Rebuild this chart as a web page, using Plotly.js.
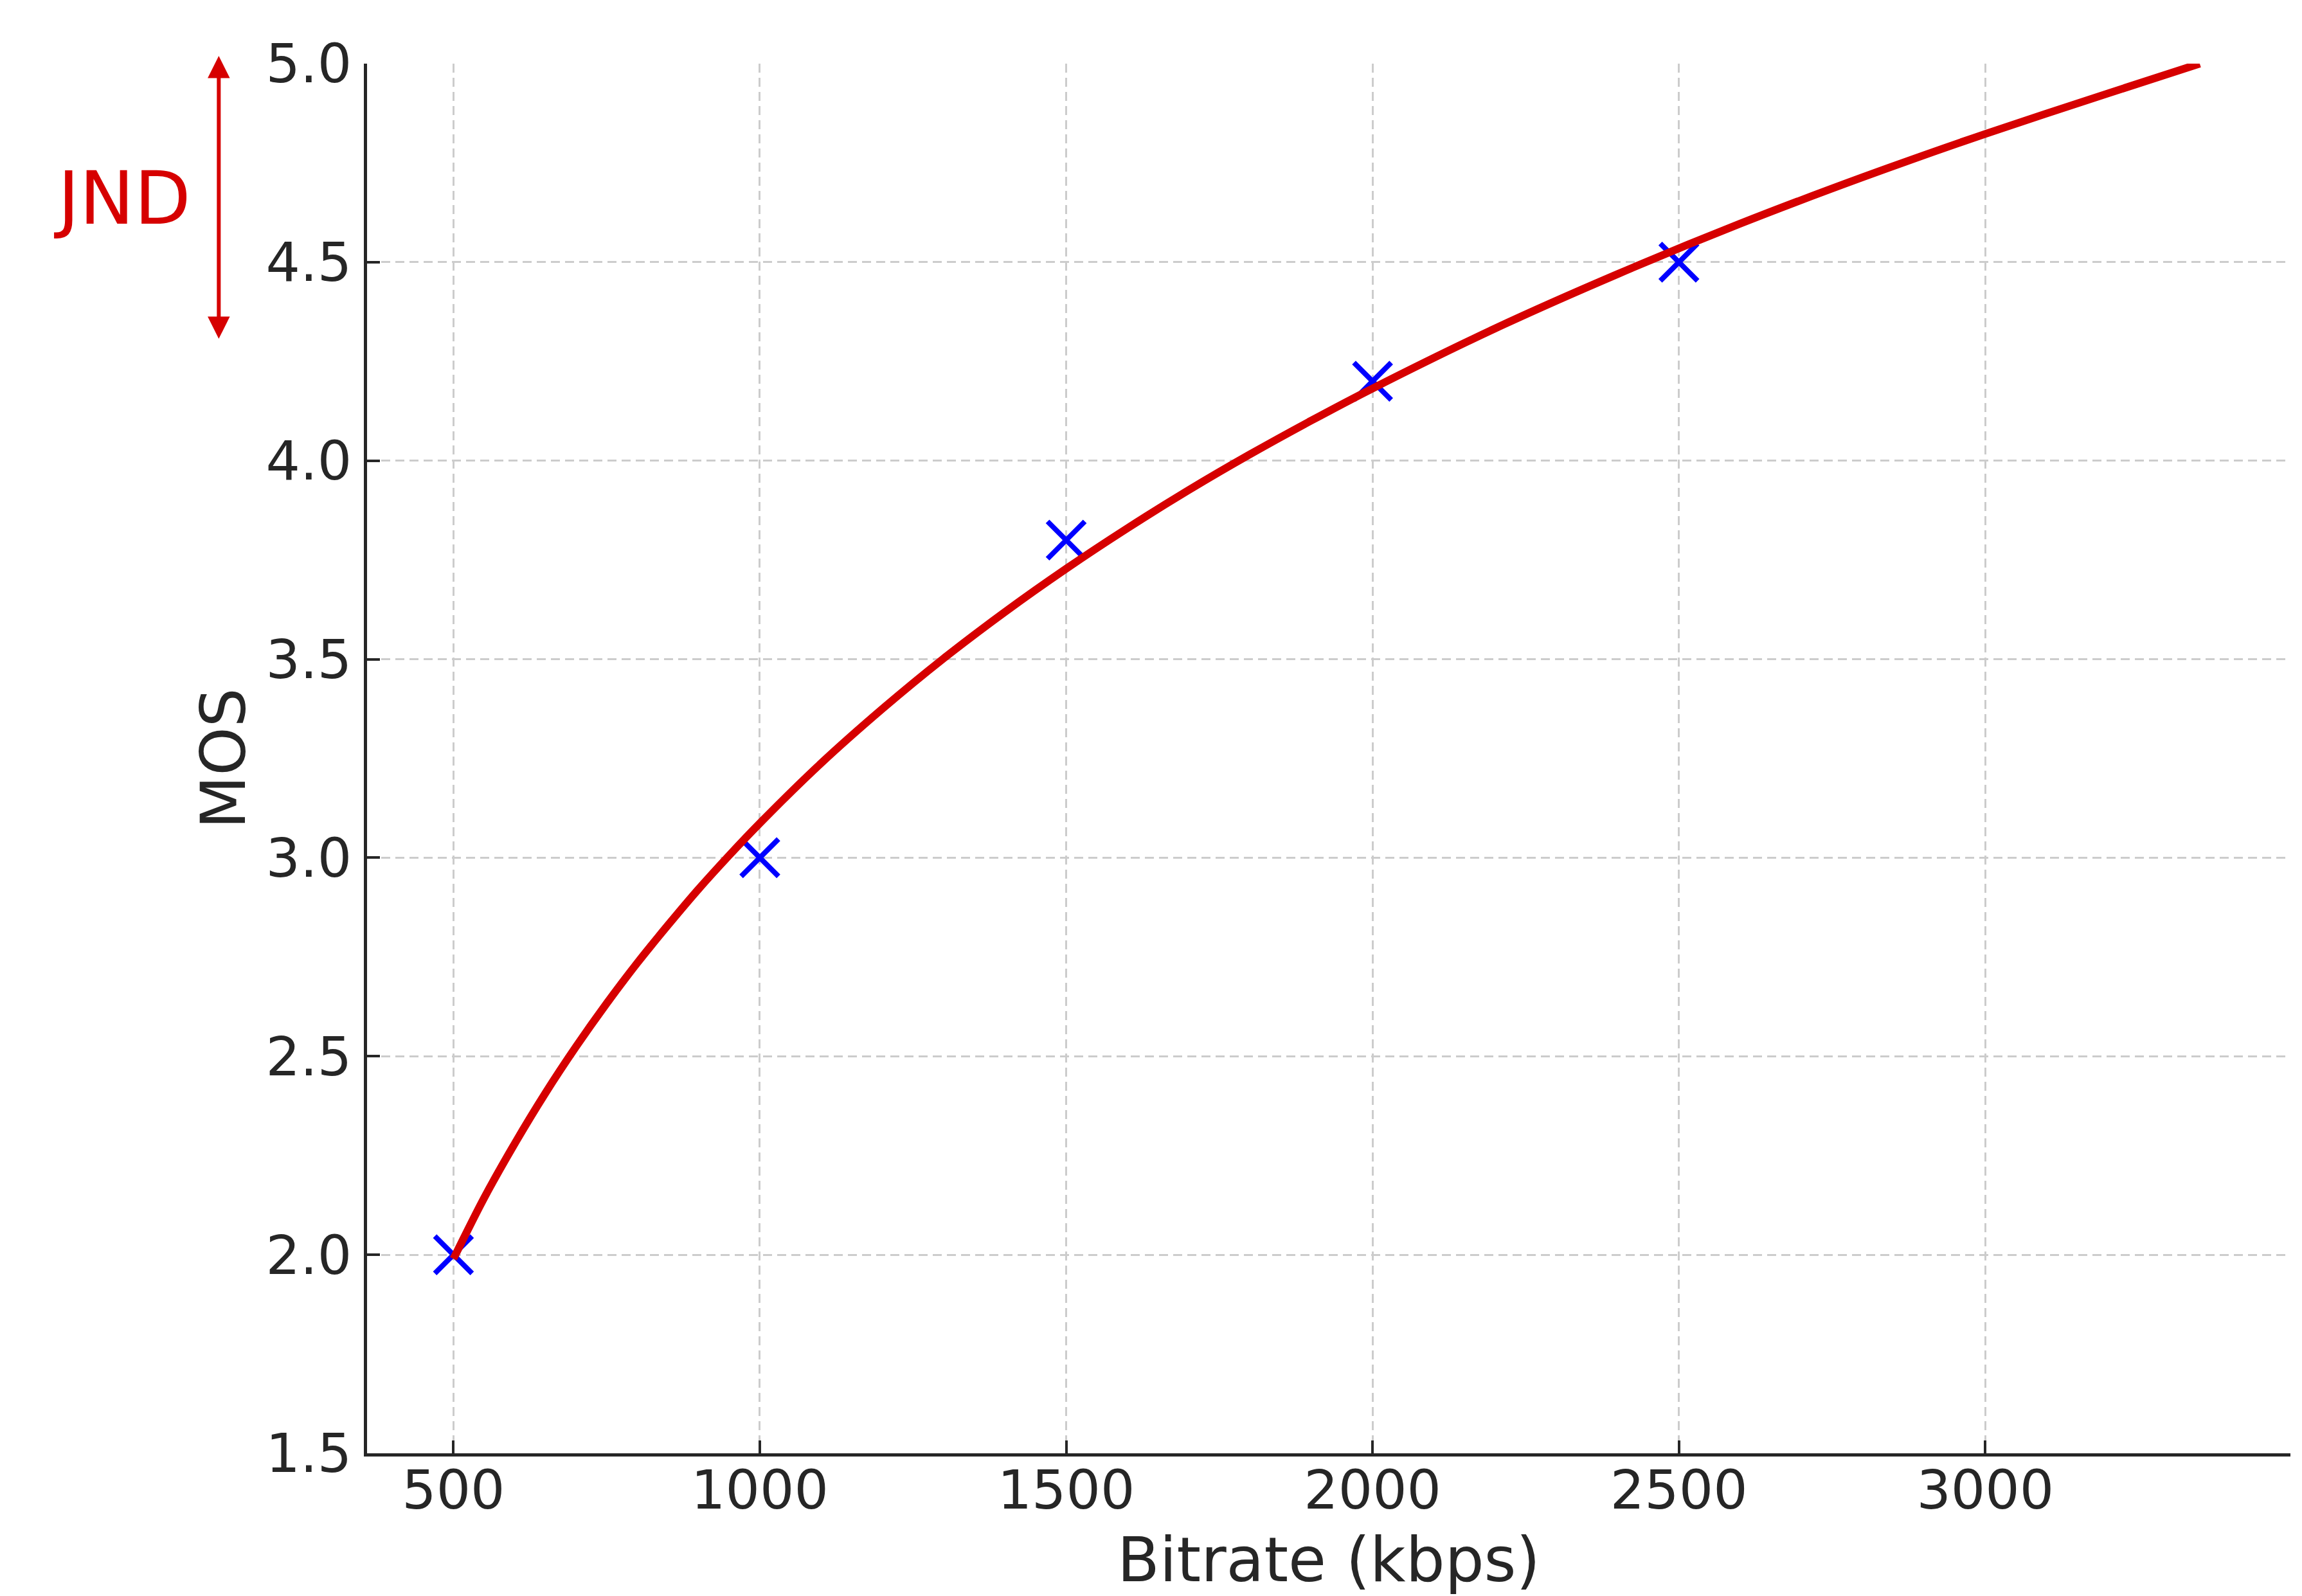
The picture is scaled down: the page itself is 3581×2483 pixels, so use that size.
<!DOCTYPE html>
<html>
<head>
<meta charset="utf-8">
<script src="https://cdn.plot.ly/plotly-3.0.1.min.js"></script>
<style>html,body{margin:0;padding:0;background:#fff;}</style>
</head>
<body>
<div id="chart" style="width:3581px;height:2483px;"></div>
<script>
// Measured MOS points
const bitrate = [500, 1000, 1500, 2000, 2500];
const mos = [2.0, 3.0, 3.8, 4.2, 4.5];

// Fitted curve
const curveX = [500, 550, 600, 650, 700, 750, 800, 850, 900, 950, 1000, 1100, 1200, 1300, 1400, 1500, 1600, 1700, 1800, 1900, 2000, 2200, 2400, 2600, 2800, 3000, 3200, 3350];
const curveY = [1.99, 2.143, 2.28, 2.407, 2.524, 2.633, 2.735, 2.83, 2.921, 3.006, 3.087, 3.238, 3.375, 3.502, 3.619, 3.728, 3.83, 3.926, 4.016, 4.101, 4.182, 4.333, 4.47, 4.597, 4.714, 4.823, 4.925, 5.0];

const xTicks = [500, 1000, 1500, 2000, 2500, 3000];
const yTicks = [1.5, 2.0, 2.5, 3.0, 3.5, 4.0, 4.5, 5.0];

const xRange = [359, 3498];
const yRange = [1.5, 5.0];

// JND annotation span (MOS units) and horizontal place (bitrate units, left of the axis)
const jndLow = 4.307;
const jndHigh = 5.022;
const jndX = 117;
const jndTextX = -40;
const jndTextY = 4.661;

const RED = '#d60000';
const INK = '#262626';
const FONT = 'DejaVu Sans';

const PLOT_H = 2483 - 99 - 222;
const toPaperX = v => (v - xRange[0]) / (xRange[1] - xRange[0]);
const toPaperY = v => (v - yRange[0]) / (yRange[1] - yRange[0]);

const traces = [
  {
    x: bitrate, y: mos, type: 'scatter', mode: 'markers',
    marker: {symbol: 'x-thin', size: 58, color: '#0000ff', line: {color: '#0000ff', width: 8}},
    showlegend: false, hoverinfo: 'skip'
  },
  {
    x: curveX, y: curveY, type: 'scatter', mode: 'lines',
    line: {color: RED, width: 12, shape: 'spline', smoothing: 0.8},
    showlegend: false, hoverinfo: 'skip'
  }
];

const axisCommon = {
  showline: true, linecolor: INK, linewidth: 5, mirror: false,
  ticks: 'inside', ticklen: 20, tickwidth: 4, tickcolor: INK,
  showgrid: true, gridcolor: '#cccccc', gridwidth: 3, griddash: '14px,8px',
  zeroline: false,
  tickfont: {family: FONT, size: 84, color: INK}
};

const layout = {
  width: 3581, height: 2483, autosize: false,
  margin: {l: 571, r: 18, t: 99, b: 222},
  paper_bgcolor: '#ffffff', plot_bgcolor: '#ffffff',
  font: {family: FONT, color: INK},
  xaxis: Object.assign({}, axisCommon, {
    range: xRange, tickvals: xTicks, ticktext: xTicks.map(String),
    ticklabelstandoff: -20,
    title: {text: 'Bitrate (kbps)', font: {family: FONT, size: 96, color: INK}, standoff: 57}
  }),
  yaxis: Object.assign({}, axisCommon, {
    range: yRange, tickvals: yTicks, ticktext: yTicks.map(v => v.toFixed(1)),
    ticklabelstandoff: 2,
    title: {text: 'MOS', font: {family: FONT, size: 96, color: INK}, standoff: 2}
  }),
  annotations: [
    {
      x: toPaperX(jndX), y: toPaperY(jndLow), xref: 'paper', yref: 'paper',
      ax: 0, ay: -(jndHigh - jndLow) / (yRange[1] - yRange[0]) * PLOT_H, axref: 'pixel', ayref: 'pixel',
      text: '', showarrow: true,
      arrowhead: 2, startarrowhead: 2, arrowside: 'end+start',
      arrowsize: 1.15, startarrowsize: 1.15, arrowwidth: 6, arrowcolor: RED,
      standoff: 0, startstandoff: 0
    },
    {
      x: toPaperX(jndTextX), y: toPaperY(jndTextY), xref: 'paper', yref: 'paper',
      text: 'JND', showarrow: false,
      xanchor: 'center', yanchor: 'middle',
      font: {family: FONT, size: 114, color: RED}
    }
  ]
};

Plotly.newPlot('chart', traces, layout, {staticPlot: true, displayModeBar: false});
</script>
</body>
</html>
